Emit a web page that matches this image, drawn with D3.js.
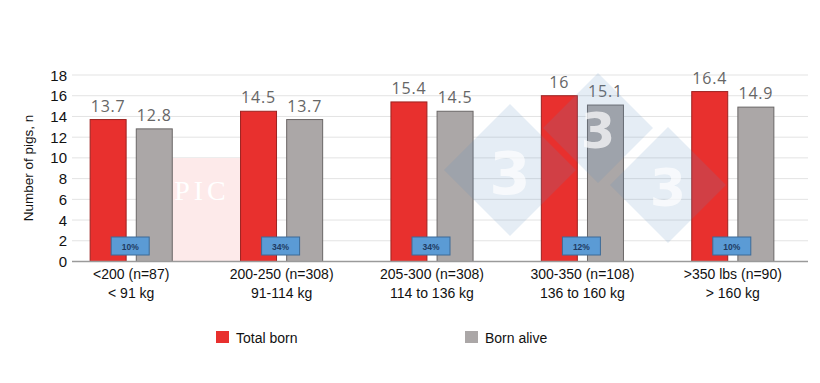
<!DOCTYPE html>
<html>
<head>
<meta charset="utf-8">
<script src="https://cdn.jsdelivr.net/npm/d3@7"></script>
<style>
  html, body { margin: 0; padding: 0; background: #fff; }
  svg { display: block; }
</style>
</head>
<body>
<svg id="chart" width="820" height="383"></svg>
<script>
const categories = ["<200 (n=87)", "200-250 (n=308)", "205-300 (n=308)", "300-350 (n=108)", ">350 lbs (n=90)"];
const subLabels = ["< 91 kg", "91-114 kg", "114 to 136 kg", "136 to 160 kg", "> 160 kg"];
const totalBorn = [13.7, 14.5, 15.4, 16, 16.4];
const bornAlive = [12.8, 13.7, 14.5, 15.1, 14.9];
const shares = ["10%", "34%", "34%", "12%", "10%"];
const seriesNames = ["Total born", "Born alive"];
const yTicks = [0, 2, 4, 6, 8, 10, 12, 14, 16, 18];

const svg = d3.select("#chart");
const colors = { "Total born": "#e8302e", "Born alive": "#aba7a7" };
const strokes = { "Total born": "#9c2220", "Born alive": "#6a6666" };

const x = d3.scaleBand().domain(categories).range([56, 808]).paddingInner(0).paddingOuter(0);
const y = d3.scaleLinear().domain([0, 18]).range([261.5, 75]);
const xs = d3.scaleBand().domain(seriesNames).range([0, x.bandwidth()]).paddingInner(0.22).paddingOuter(0.74);

// gridlines
svg.append("g").selectAll("line").data(yTicks.filter(d => d > 0)).join("line")
  .attr("x1", 72).attr("x2", 808)
  .attr("y1", d => y(d)).attr("y2", d => y(d))
  .attr("stroke", "#e3e3e3").attr("stroke-width", 1);

// y tick labels
svg.append("g").selectAll("text").data(yTicks).join("text")
  .attr("x", 67).attr("y", d => y(d) + 5.5)
  .attr("text-anchor", "end")
  .attr("font-family", "Liberation Sans, Arial, sans-serif")
  .attr("font-size", 15).attr("fill", "#111")
  .text(d => d);

// y axis title
svg.append("text")
  .attr("transform", "translate(33,168) rotate(-90)")
  .attr("text-anchor", "middle")
  .attr("font-family", "Liberation Sans, Arial, sans-serif")
  .attr("font-size", 13.5).attr("fill", "#111")
  .text("Number of pigs, n");

// watermark PIC
svg.append("rect").attr("x", 165).attr("y", 158).attr("width", 75).attr("height", 104)
  .attr("fill", "#fdeaea");
svg.append("text").attr("x", 202).attr("y", 200).attr("text-anchor", "middle")
  .attr("font-family", "Liberation Serif, serif").attr("font-size", 28)
  .attr("fill", "#ffffff").attr("letter-spacing", 4).text("PIC");

const data = categories.map((c, i) => ({ c, i, vals: [
  { s: "Total born", v: totalBorn[i] }, { s: "Born alive", v: bornAlive[i] }] }));

const groups = svg.append("g").selectAll("g").data(data).join("g")
  .attr("transform", d => `translate(${x(d.c)},0)`);

groups.selectAll("rect.bar").data(d => d.vals).join("rect")
  .attr("class", "bar")
  .attr("x", d => xs(d.s)).attr("width", xs.bandwidth())
  .attr("y", d => y(d.v)).attr("height", d => y(0) - y(d.v))
  .attr("fill", d => colors[d.s]).attr("stroke", d => strokes[d.s]).attr("stroke-width", 1);

groups.selectAll("text.val").data(d => d.vals).join("text")
  .attr("class", "val")
  .attr("x", d => xs(d.s) + xs.bandwidth() / 2).attr("y", d => y(d.v) - 8)
  .attr("text-anchor", "middle")
  .attr("font-family", "Open Sans, DejaVu Sans, sans-serif")
  .attr("font-size", 16).attr("fill", "#666")
  .attr("letter-spacing", 0.8)
  .text(d => d.v);

// baseline
svg.append("line").attr("x1", 72).attr("x2", 808).attr("y1", y(0)).attr("y2", y(0))
  .attr("stroke", "#9a9a9a").attr("stroke-width", 1.5);

// share boxes
groups.append("rect")
  .attr("x", x.bandwidth() / 2 - 20).attr("y", 237).attr("width", 38).attr("height", 18)
  .attr("fill", "#5b9bd5").attr("stroke", "#3c6b97").attr("stroke-width", 1);
groups.append("text")
  .attr("x", x.bandwidth() / 2 - 1).attr("y", 249.5).attr("text-anchor", "middle")
  .attr("font-family", "Liberation Sans, Arial, sans-serif").attr("font-weight", "bold")
  .attr("font-size", 8.5).attr("fill", "#1f3b63")
  .text((d) => shares[d.i]);

// category labels
groups.append("text")
  .attr("x", x.bandwidth() / 2).attr("y", 279).attr("text-anchor", "middle")
  .attr("font-family", "Liberation Sans, Arial, sans-serif").attr("font-size", 14).attr("fill", "#111")
  .text(d => d.c);
groups.append("text")
  .attr("x", x.bandwidth() / 2).attr("y", 298).attr("text-anchor", "middle")
  .attr("font-family", "Liberation Sans, Arial, sans-serif").attr("font-size", 14).attr("fill", "#111")
  .text(d => subLabels[d.i]);

// watermark diamonds "3"
const diamonds = [[510, 170, 66], [598, 128, 55], [668, 185, 58]];
const wm = svg.append("g").attr("pointer-events", "none");
diamonds.forEach(([cx, cy, r]) => {
  wm.append("path")
    .attr("d", `M${cx},${cy - r}L${cx + r},${cy}L${cx},${cy + r}L${cx - r},${cy}Z`)
    .attr("fill", "#5f8fc0").attr("opacity", 0.16);
  wm.append("text").attr("x", cx).attr("y", cy + r * 0.36).attr("text-anchor", "middle")
    .attr("font-family", "DejaVu Sans, sans-serif").attr("font-weight", "bold")
    .attr("font-size", r * 0.9).attr("fill", "#ffffff").attr("opacity", 0.7).text("3");
});

// legend
const legendPos = [[216, 236], [465, 485]];
seriesNames.forEach((s, i) => {
  svg.append("rect").attr("x", legendPos[i][0]).attr("y", 331).attr("width", 13).attr("height", 12)
    .attr("fill", colors[s]);
  svg.append("text").attr("x", legendPos[i][1]).attr("y", 343)
    .attr("font-family", "Liberation Sans, Arial, sans-serif").attr("font-size", 14).attr("fill", "#111")
    .text(s);
});
</script>
</body>
</html>
